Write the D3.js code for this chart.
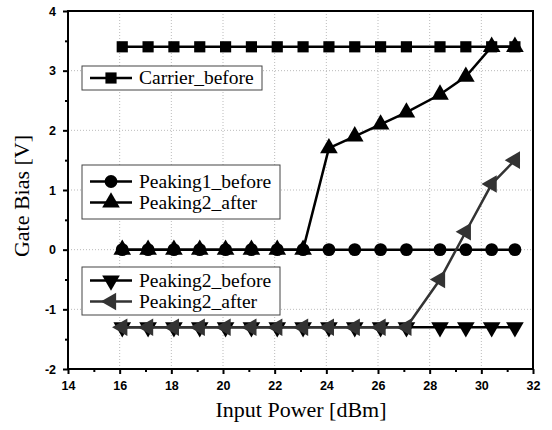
<!DOCTYPE html>
<html>
<head>
<meta charset="utf-8">
<script src="https://cdn.jsdelivr.net/npm/d3@7"></script>
<style>
  body { margin: 0; background: #fff; }
  .tick text { font-family: "Liberation Sans", Arial, sans-serif; font-weight: bold; font-size: 12.5px; }
  .title { font-family: "Liberation Serif", "Times New Roman", serif; font-size: 22px; }
  .leg { font-family: "Liberation Serif", "Times New Roman", serif; font-size: 19.5px; }
</style>
</head>
<body>
<svg id="chart"></svg>
<script>
// input power (dBm)
const power = [16.1, 17.1, 18.1, 19.1, 20.1, 21.1, 22.1, 23.1, 24.1, 25.1, 26.1, 27.1, 28.4, 29.4, 30.4, 31.3];

// gate bias (V)
const carrierBefore  = [3.4, 3.4, 3.4, 3.4, 3.4, 3.4, 3.4, 3.4, 3.4, 3.4, 3.4, 3.4, 3.4, 3.4, 3.4, 3.4];
const peaking1Before = [0, 0, 0, 0, 0, 0, 0, 0, 0, 0, 0, 0, 0, 0, 0, 0];
const peaking1After  = [0, 0, 0, 0, 0, 0, 0, 0, 1.7, 1.9, 2.1, 2.3, 2.6, 2.9, 3.4, 3.4];
const peaking2Before = [-1.3, -1.3, -1.3, -1.3, -1.3, -1.3, -1.3, -1.3, -1.3, -1.3, -1.3, -1.3, -1.3, -1.3, -1.3, -1.3];
const peaking2After  = [-1.3, -1.3, -1.3, -1.3, -1.3, -1.3, -1.3, -1.3, -1.3, -1.3, -1.3, -1.3, -0.5, 0.3, 1.1, 1.5];

const xTicks = [14, 16, 18, 20, 22, 24, 26, 28, 30, 32];
const yTicks = [-2, -1, 0, 1, 2, 3, 4];

const W = 552, H = 430;
const margin = { top: 11, right: 19, bottom: 61, left: 68 };
const width = W - margin.left - margin.right;
const height = H - margin.top - margin.bottom;

const svg = d3.select("#chart").attr("width", W).attr("height", H);
const g = svg.append("g").attr("transform", `translate(${margin.left},${margin.top})`);

const x = d3.scaleLinear().domain([14, 32]).range([0, width]);
const y = d3.scaleLinear().domain([-2, 4]).range([height, 0]);

// grid
g.append("g").selectAll("line").data(xTicks.slice(1, -1)).enter().append("line")
  .attr("x1", d => x(d)).attr("x2", d => x(d)).attr("y1", 0).attr("y2", height)
  .attr("stroke", "#aaa").attr("stroke-width", 0.8).attr("stroke-dasharray", "1,2");
g.append("g").selectAll("line").data(yTicks.slice(1, -1)).enter().append("line")
  .attr("y1", d => y(d)).attr("y2", d => y(d)).attr("x1", 0).attr("x2", width)
  .attr("stroke", "#aaa").attr("stroke-width", 0.8).attr("stroke-dasharray", "1,2");

// axes (plain hyphen for negatives)
const fmt = d => String(d);
const xAxis = g.append("g").attr("transform", `translate(0,${height})`)
  .call(d3.axisBottom(x).tickValues(xTicks).tickSize(5).tickPadding(7).tickFormat(fmt));
const xMinor = g.append("g").attr("transform", `translate(0,${height})`)
  .call(d3.axisBottom(x).tickValues(d3.range(15, 32, 2)).tickSize(3).tickFormat(""));
const yAxis = g.append("g")
  .call(d3.axisLeft(y).tickValues(yTicks).tickSize(5).tickPadding(7).tickFormat(fmt));
const yMinor = g.append("g")
  .call(d3.axisLeft(y).tickValues(d3.range(-1.5, 4, 1)).tickSize(3).tickFormat(""));
[xAxis, xMinor, yAxis, yMinor].forEach(a => {
  a.select(".domain").remove();
  a.selectAll(".tick line").attr("stroke", "#000").attr("stroke-width", 2);
  a.selectAll(".tick text").attr("fill", "#000");
});

// frame
g.append("rect").attr("width", width).attr("height", height)
  .attr("fill", "none").attr("stroke", "#000").attr("stroke-width", 2);

// markers
const sym = {
  square: d3.symbol().type(d3.symbolSquare).size(125),
  circle: d3.symbol().type(d3.symbolCircle).size(130),
  triangle: d3.symbol().type(d3.symbolTriangle).size(135)
};

const series = [
  { name: "Carrier_before",  vals: carrierBefore,  shape: "square",   rot: 0,   color: "#000" },
  { name: "Peaking1_before", vals: peaking1Before, shape: "circle",   rot: 0,   color: "#000" },
  { name: "Peaking2_after",  vals: peaking1After,  shape: "triangle", rot: 0,   color: "#000" },
  { name: "Peaking2_before", vals: peaking2Before, shape: "triangle", rot: 180, color: "#000" },
  { name: "Peaking2_after",  vals: peaking2After,  shape: "triangle", rot: -90, color: "#333" }
];

const line = d3.line().x(d => x(d[0])).y(d => y(d[1]));

series.forEach(s => {
  const pts = power.map((p, i) => [p, s.vals[i]]);
  g.append("path").datum(pts).attr("d", line)
    .attr("fill", "none").attr("stroke", s.color).attr("stroke-width", 2.5);
  g.selectAll(null).data(pts).enter().append("path")
    .attr("d", sym[s.shape])
    .attr("transform", d => `translate(${x(d[0])},${y(d[1])}) rotate(${s.rot})`)
    .attr("fill", s.color);
});

// legends
const legendBoxes = [
  { x: 14, y: 55, w: 180, h: 24, items: [0] },
  { x: 14, y: 154, w: 198, h: 54, items: [1, 2] },
  { x: 14, y: 256, w: 198, h: 48, items: [3, 4] }
];
legendBoxes.forEach(b => {
  const rowH = 21;
  const lg = g.append("g").attr("transform", `translate(${b.x},${b.y})`);
  lg.append("rect").attr("width", b.w).attr("height", b.h)
    .attr("fill", "#fff").attr("stroke", "#444").attr("stroke-width", 1);
  const top = (b.h - rowH * (b.items.length - 1)) / 2;
  b.items.forEach((idx, i) => {
    const s = series[idx];
    const cy = top + i * rowH;
    lg.append("line").attr("x1", 8).attr("x2", 50).attr("y1", cy).attr("y2", cy)
      .attr("stroke", s.color).attr("stroke-width", 2.5);
    lg.append("path").attr("d", sym[s.shape])
      .attr("transform", `translate(29,${cy}) rotate(${s.rot})`).attr("fill", s.color);
    lg.append("text").attr("class", "leg").attr("x", 57).attr("y", cy + 6).text(s.name);
  });
});

// axis titles
svg.append("text").attr("class", "title")
  .attr("x", 301).attr("y", 417).attr("text-anchor", "middle")
  .text("Input Power [dBm]");
svg.append("text").attr("class", "title")
  .attr("transform", `translate(29,196) rotate(-90)`)
  .attr("text-anchor", "middle").text("Gate Bias [V]");
</script>
</body>
</html>
